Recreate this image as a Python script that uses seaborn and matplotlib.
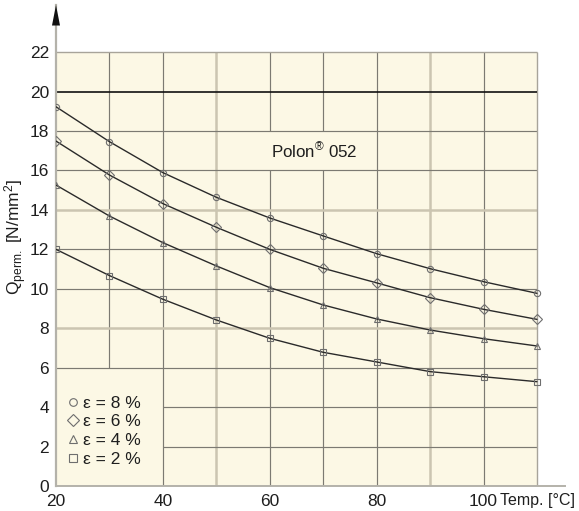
import matplotlib
matplotlib.use('Agg')
import matplotlib.pyplot as plt
import seaborn as sns
from matplotlib.lines import Line2D
from matplotlib.patches import Rectangle, Polygon

# ---- data ----
temps = [20, 30, 40, 50, 60, 70, 80, 90, 100, 110]
q_eps8 = [19.23, 17.46, 15.89, 14.64, 13.59, 12.68, 11.78, 11.02, 10.36, 9.77]
q_eps6 = [17.49, 15.77, 14.32, 13.12, 12.00, 11.04, 10.30, 9.55, 8.96, 8.45]
q_eps4 = [15.26, 13.69, 12.34, 11.16, 10.06, 9.18, 8.47, 7.91, 7.47, 7.10]
q_eps2 = [12.00, 10.67, 9.47, 8.42, 7.49, 6.78, 6.29, 5.80, 5.54, 5.29]
series_labels = ['ε = 8 %', 'ε = 6 %', 'ε = 4 %', 'ε = 2 %']
x_ticks = [20, 40, 60, 80, 100]
y_ticks = [0, 2, 4, 6, 8, 10, 12, 14, 16, 18, 20, 22]
limit_value = 20
annotation = 'Polon$^{®}$ 052'
x_title = 'Temp. [°C]'
y_title = 'Q$_{\\mathrm{perm.}}$ [N/mm$^{2}$]'

sns.set_style('white')
plt.rcParams['font.family'] = ['Liberation Sans', 'DejaVu Sans']
plt.rcParams['mathtext.fontset'] = 'custom'
plt.rcParams['mathtext.rm'] = 'Liberation Sans'
plt.rcParams['mathtext.it'] = 'Liberation Sans'

W, H = 579, 511
fig = plt.figure(figsize=(W / 100, H / 100), dpi=100)
ax = fig.add_axes([56 / W, 25 / H, 509 / W, 481 / H])
ax.set_xlim(20, 115.25)
ax.set_ylim(0, 24.39)

cream = '#fcf8e5'
dark_grid = '#7c7a72'
light_grid = '#cbc5b1'
txt = '#1e1e1e'

# plot area background
ax.add_patch(Rectangle((20, 0), 90, 22, facecolor=cream, edgecolor='none', zorder=0))

# grid (with gaps for the legend and the annotation)
vsegs = {30: [(6, 22)], 40: [(0, 22)], 50: [(0, 22)], 60: [(0, 16), (18, 22)],
         70: [(0, 16), (18, 22)], 80: [(0, 22)], 90: [(0, 22)], 100: [(0, 22)]}
for xv, segs in vsegs.items():
    light = xv in (50, 90)
    for a, b in segs:
        ax.vlines(xv, a, b, colors=light_grid if light else dark_grid,
                  lw=1.8 if light else 0.85, zorder=1)
hsegs = {2: (40, 110), 4: (40, 110), 6: (20, 110), 8: (20, 110), 10: (20, 110),
         12: (20, 110), 14: (20, 110), 16: (20, 110), 18: (20, 110)}
for yv, (a, b) in hsegs.items():
    light = yv in (8, 14)
    ax.hlines(yv, a, b, colors=light_grid if light else dark_grid,
              lw=1.8 if light else 0.85, zorder=1)
ax.hlines(22, 20, 110, colors='#a8a49a', lw=1.0, zorder=1)
ax.vlines(110, 0, 22, colors='#a8a49a', lw=1.0, zorder=1)
ax.hlines(limit_value, 20, 110, colors='#111111', lw=1.2, zorder=2)

# data curves
series = [q_eps8, q_eps6, q_eps4, q_eps2]
markers = ['o', 'D', '^', 's']
msizes = [4.5, 5.0, 5.0, 4.5]
for vals, m, ms in zip(series, markers, msizes):
    sns.lineplot(x=temps, y=vals, ax=ax, color='#2a2a2a', lw=1.0, marker=m,
                 markersize=ms, markerfacecolor='none', markeredgecolor='#6e6e6e',
                 markeredgewidth=0.8, zorder=5, legend=False)

# legend
handles = [Line2D([], [], ls='none', marker=m, markersize=s, markerfacecolor='none',
                  markeredgecolor='#6e6e6e', markeredgewidth=0.8)
           for m, s in zip(markers, [5.5, 6.0, 6.0, 5.5])]
leg = ax.legend(handles, series_labels, loc='upper left', bbox_to_anchor=(22.2, 4.58),
                bbox_transform=ax.transData, frameon=False, fontsize=12.5,
                handlelength=0.6, handletextpad=0.25, labelspacing=0.2,
                borderpad=0, borderaxespad=0)
for t in leg.get_texts():
    t.set_color(txt)

# annotation
ax.text(60.3, 17.0, annotation, fontsize=12.2, color=txt, va='center', ha='left', zorder=6)

# spines and arrow
for s in ['top', 'right']:
    ax.spines[s].set_visible(False)
ax.spines['left'].set_color('#b4b2aa')
ax.spines['left'].set_linewidth(1.6)
ax.spines['bottom'].set_color('#b4b2aa')
ax.spines['bottom'].set_linewidth(1.4)
ax.add_patch(Polygon([(20 - 0.75, 23.35), (20 + 0.75, 23.35), (20, 24.39)],
                     closed=True, facecolor='#111111', edgecolor='none', clip_on=False, zorder=7))

ax.set_xticks(x_ticks)
ax.set_xticklabels([str(v) for v in x_ticks])
ax.set_yticks(y_ticks)
ax.set_yticklabels([str(v) for v in y_ticks])
ax.tick_params(axis='both', length=0, labelsize=12.5, colors=txt)
ax.tick_params(axis='y', pad=5)
ax.tick_params(axis='x', pad=6)

ax.text(103.1, -0.33, x_title, fontsize=11.5, color=txt, ha='left', va='top')
fig.text(16 / W, 1 - 237 / H, y_title, rotation=90, fontsize=12.5, color=txt,
         ha='center', va='center')

fig.savefig('out.png', dpi=100)
